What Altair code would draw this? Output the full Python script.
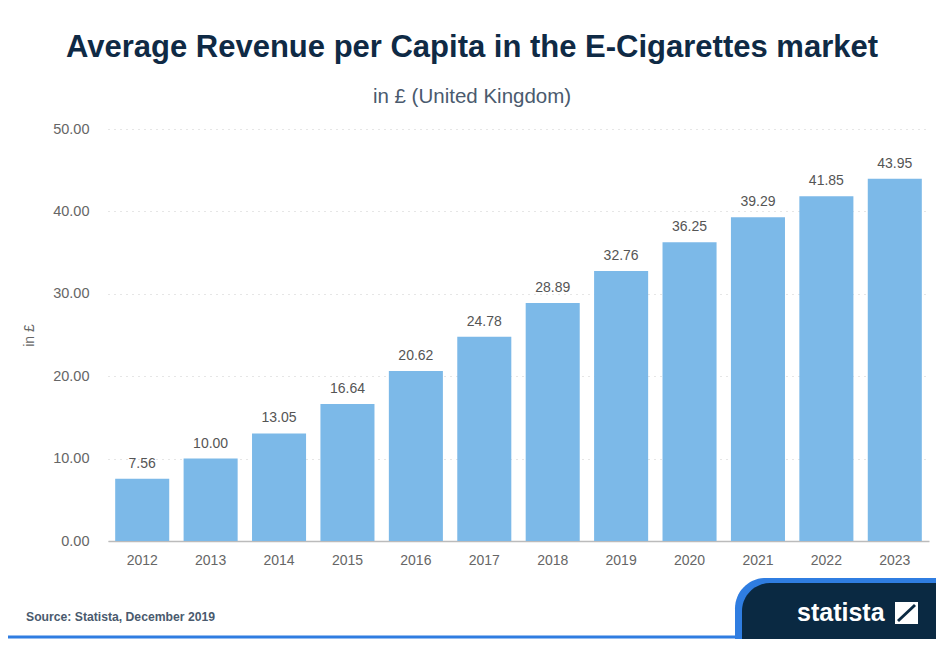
import altair as alt
import pandas as pd

years = ["2012", "2013", "2014", "2015", "2016", "2017", "2018", "2019", "2020", "2021", "2022", "2023"]
values = [7.56, 10.00, 13.05, 16.64, 20.62, 24.78, 28.89, 32.76, 36.25, 39.29, 41.85, 43.95]
y_ticks = [0, 10, 20, 30, 40, 50]

title_text = "Average Revenue per Capita in the E-Cigarettes market"
subtitle_text = "in £ (United Kingdom)"
source_text = "Source: Statista, December 2019"
y_title = "in £"

df = pd.DataFrame({"year": years, "value": values})

W, H = 821, 412
PL, PT = 100, 121
TOTAL_W, TOTAL_H = 928, 631

base = alt.Chart(df)

x_enc = alt.X("year:N", sort=years, title=None,
              scale=alt.Scale(paddingInner=0.21, paddingOuter=0.105),
              axis=alt.Axis(labelAngle=0, labelFont="Liberation Sans", labelFontSize=14,
                            labelColor="#666666", ticks=False, labelPadding=12, grid=False,
                            domainColor="#bbbbbb", domainWidth=1.5))
y_enc = alt.Y("value:Q", title=y_title,
              scale=alt.Scale(domain=[0, 50], nice=False),
              axis=alt.Axis(values=y_ticks, format=".2f", labelFont="Liberation Sans",
                            labelFontSize=14.5, labelColor="#666666", ticks=False,
                            labelPadding=19, domain=False, grid=True,
                            gridColor="#cccccc", gridDash=[1, 5], gridWidth=1,
                            titleFont="Liberation Sans", titleFontSize=14,
                            titleFontWeight="normal", titleColor="#666666",
                            titlePadding=16))

bars = base.mark_bar(color="#7cb9e8").encode(x=x_enc, y=y_enc)

labels = base.mark_text(baseline="bottom", dy=-8, font="Liberation Sans",
                        fontSize=14, color="#555555").encode(
    x=alt.X("year:N", sort=years),
    y=alt.Y("value:Q"),
    text=alt.Text("value:Q", format=".2f"),
)

cx = 472 - 8 - PL
title = alt.Chart(pd.DataFrame({"t": [title_text]})).mark_text(
    font="Liberation Sans", fontSize=31, fontWeight="bold", color="#0f2a45",
    align="center", baseline="middle").encode(
    x=alt.value(cx), y=alt.value(48 - 8 - PT), text="t:N")

subtitle = alt.Chart(pd.DataFrame({"t": [subtitle_text]})).mark_text(
    font="Liberation Sans", fontSize=20.5, color="#4a5a6e",
    align="center", baseline="middle").encode(
    x=alt.value(cx), y=alt.value(97 - 8 - PT), text="t:N")

source = alt.Chart(pd.DataFrame({"t": [source_text]})).mark_text(
    font="Liberation Sans", fontSize=12.2, fontWeight="bold", color="#4a5a6e",
    align="left", baseline="middle").encode(
    x=alt.value(26 - 8 - PL), y=alt.value(617 - 8 - PT), text="t:N")

one = pd.DataFrame({"a": [0]})

logo_blue = alt.Chart(one).mark_rect(
    color="#2f7de1", cornerRadiusTopLeft=58).encode(
    x=alt.value(735 - 8 - PL), x2=alt.value(TOTAL_W - PL),
    y=alt.value(578 - 8 - PT), y2=alt.value(TOTAL_H - PT))

logo_bg = alt.Chart(one).mark_rect(
    color="#0a2942", cornerRadiusTopLeft=55).encode(
    x=alt.value(742 - 8 - PL), x2=alt.value(TOTAL_W - PL),
    y=alt.value(583 - 8 - PT), y2=alt.value(TOTAL_H - PT))

logo_line = alt.Chart(one).mark_rule(
    color="#2f7de1", strokeWidth=3).encode(
    x=alt.value(0 - PL), x2=alt.value(TOTAL_W - PL),
    y=alt.value(TOTAL_H - 2 - PT))

logo_text = alt.Chart(pd.DataFrame({"t": ["statista"]})).mark_text(
    font="Liberation Sans", fontSize=25, fontWeight="bold", color="white",
    align="left", baseline="middle").encode(
    x=alt.value(797 - 8 - PL), y=alt.value(613 - 8 - PT), text="t:N")

logo_icon = alt.Chart(one).mark_rect(color="white").encode(
    x=alt.value(895 - 8 - PL), x2=alt.value(918 - 8 - PL),
    y=alt.value(602 - 8 - PT), y2=alt.value(624 - 8 - PT))

logo_icon_cut = alt.Chart(one).mark_rule(color="#0a2942", strokeWidth=3).encode(
    x=alt.value(898 - 8 - PL), x2=alt.value(915 - 8 - PL),
    y=alt.value(621 - 8 - PT), y2=alt.value(605 - 8 - PT))

chart = alt.layer(bars, labels, title, subtitle, source, logo_line, logo_blue, logo_bg,
                  logo_text, logo_icon, logo_icon_cut).properties(
    width=W, height=H,
    background="white",
    autosize=alt.AutoSizeParams(type="none"),
    padding={"left": PL, "top": PT, "right": TOTAL_W - PL - W, "bottom": TOTAL_H - PT - H},
).configure_view(
    strokeWidth=0, stroke="transparent"
).configure_axisX(grid=False)

chart.save("out.html", embed_options={"renderer": "svg", "actions": False})
